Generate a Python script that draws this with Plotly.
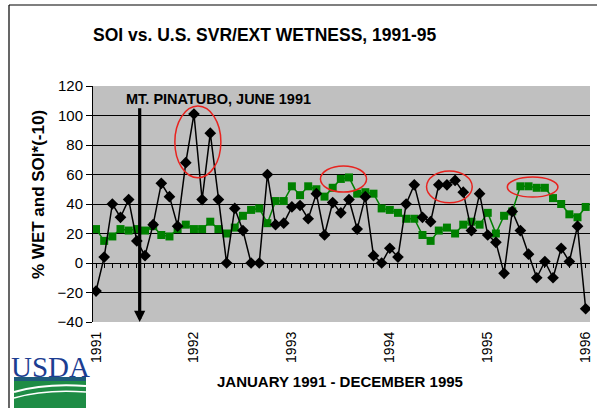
import plotly.graph_objects as go

# ---------------- data ----------------
years = ["1991", "1992", "1993", "1994", "1995", "1996"]
year_positions = [0, 12, 24, 36, 48, 60]

soi_x_minus10 = [-19, 4, 40, 31, 43, 15, 5, 26, 54, 45, 25, 68, 101, 43, 88, 43, 0, 37, 22, 0,
                 0, 60, 26, 27, 38, 39, 30, 47, 19, 41, 34, 43, 23, 45, 5, 0, 10, 4, 40, 53,
                 31, 28, 53, 53, 56, 48, 22, 47, 19, 14, -7, 35, 22, 6, -10, 1, -10, 10, 1, 25, -31]
wetness_pct = [23, 15, 18, 23, 22, 23, 22, 25, 19, 18, 23, 26, 23, 23, 28, 23, 20, 24, 32, 36,
               37, 27, 42, 42, 52, 46, 52, 50, 45, 51, 57, 58, 47, 48, 47, 37, 36, 34, 30, 30,
               19, 15, 22, 24, 20, 26, 28, 26, 34, 20, 32, 35, 52, 52, 51, 51, 44, 40, 33, 31, 38]
months = list(range(len(soi_x_minus10)))

y_ticks = [-40, -20, 0, 20, 40, 60, 80, 100, 120]
pinatubo_month = 5.35
highlight_ellipses = [  # (x0, x1, y0, y1) in data units
    (9.66, 15.3, 57.8, 106.4),
    (27.5, 33.15, 48.1, 65.8),
    (40.5, 46.1, 40.9, 62.4),
    (50.4, 56.6, 44.7, 58.3),
]

# ---------------- layout helpers ----------------
W, H = 597, 408
ML, MR, MT, MB = 93, 7, 86, 86
PW, PH = W - ML - MR, H - MT - MB


def px(x):
    return (x - ML) / PW


def py(y):
    return (H - MB - y) / PH


FONT = "Liberation Sans, Arial, sans-serif"

fig = go.Figure()

fig.add_trace(go.Scatter(
    x=months, y=wetness_pct, mode="lines+markers",
    line=dict(color="#008000", width=1.5),
    marker=dict(symbol="square", size=8, color="#008000"),
    name="% WET", xaxis="x", yaxis="y"))
fig.add_trace(go.Scatter(
    x=months, y=soi_x_minus10, mode="lines+markers",
    line=dict(color="black", width=1.5),
    marker=dict(symbol="diamond", size=9, color="black"),
    name="SOI*(-10)", xaxis="x", yaxis="y"))

# invisible trace to activate the zero-line axis with month ticks
fig.add_trace(go.Scatter(x=months, y=[None] * len(months), xaxis="x2", yaxis="y",
                         showlegend=False, hoverinfo="skip"))

shapes = []
for (x0, x1, y0, y1) in highlight_ellipses:
    shapes.append(dict(type="circle", xref="x", yref="y", x0=x0, x1=x1, y0=y0, y1=y1,
                       line=dict(color="#e8231f", width=1.5)))

# outer frame
shapes.append(dict(type="line", xref="paper", yref="paper", x0=px(9), x1=px(9),
                   y0=py(5), y1=py(410), line=dict(color="black", width=1.2)))
shapes.append(dict(type="line", xref="paper", yref="paper", x0=px(9), x1=px(599),
                   y0=py(5), y1=py(5), line=dict(color="black", width=1.2)))

# USDA logo (drawn)
shapes.append(dict(type="rect", xref="paper", yref="paper", x0=px(14), x1=px(86),
                   y0=py(379), y1=py(408), fillcolor="#1e8c45", line=dict(width=0)))
shapes.append(dict(type="rect", xref="paper", yref="paper", x0=px(14), x1=px(86),
                   y0=py(377), y1=py(381), fillcolor="#1d5a7a", line=dict(width=0)))
for (ya, yb, yc, wdt) in [(392, 383, 386, 2.2), (398, 389, 392, 1.6)]:
    shapes.append(dict(type="path", xref="paper", yref="paper",
                       path=f"M {px(14)},{py(ya)} Q {px(45)},{py(yb)} {px(86)},{py(yc)}",
                       line=dict(color="white", width=wdt)))

annotations = [
    dict(text="<b>SOI vs. U.S. SVR/EXT WETNESS, 1991-95</b>", xref="paper", yref="paper",
         x=px(265), y=py(35), xanchor="center", yanchor="middle", showarrow=False,
         font=dict(size=17.5, color="black", family=FONT)),
    dict(text="<b>% WET and SOI*(-10)</b>", xref="paper", yref="paper", textangle=-90,
         x=px(38), y=py(195), xanchor="center", yanchor="middle", showarrow=False,
         font=dict(size=17, color="black", family=FONT)),
    dict(text="<b>JANUARY 1991 - DECEMBER 1995</b>", xref="paper", yref="paper",
         x=px(340), y=py(381), xanchor="center", yanchor="middle", showarrow=False,
         font=dict(size=15, color="black", family=FONT)),
    dict(text="<b>MT. PINATUBO, JUNE 1991</b>", xref="paper", yref="paper",
         x=px(124), y=py(99), xanchor="left", yanchor="middle", showarrow=False,
         font=dict(size=14.5, color="black", family=FONT)),
    dict(text="", x=pinatubo_month, y=-40, ax=pinatubo_month, ay=106,
         xref="x", yref="y", axref="x", ayref="y", showarrow=True,
         arrowhead=2, arrowsize=0.7, arrowwidth=3.2, arrowcolor="black", standoff=0),
    dict(text="USDA", xref="paper", yref="paper", x=px(50), y=py(367),
         xanchor="center", yanchor="middle", showarrow=False,
         font=dict(size=29, color="#1c3d91", family="Liberation Serif, Times New Roman, serif")),
]

fig.update_layout(
    width=W, height=H,
    margin=dict(l=ML, r=MR, t=MT, b=MB, autoexpand=False),
    paper_bgcolor="white",
    plot_bgcolor="#c0c0c0",
    showlegend=False,
    font=dict(family=FONT, color="black"),
    xaxis=dict(range=[-0.37, 60.53], tickmode="array", tickvals=year_positions,
               ticktext=years, tickangle=-90, showgrid=False, zeroline=False,
               showline=False, ticks="", tickfont=dict(size=14), ticklabelstandoff=6,
               automargin=False),
    xaxis2=dict(overlaying="x", matches="x", anchor="free", position=0.25, side="bottom",
                showline=True, linecolor="black", linewidth=1, ticks="outside",
                tickmode="linear", tick0=0, dtick=1, ticklen=4, tickcolor="black",
                tickwidth=1, showticklabels=False, showgrid=False, zeroline=False,
                automargin=False),
    yaxis=dict(range=[-40, 120], tickvals=y_ticks, showgrid=True, gridcolor="black",
               gridwidth=1, zeroline=False, showline=True, linecolor="black", linewidth=1,
               ticks="outside", ticklen=6, tickcolor="black", tickfont=dict(size=15),
               automargin=False),
    shapes=shapes,
    annotations=annotations,
)

fig.write_html("out.html", config={"displayModeBar": False},
               post_script="document.body.style.margin='0';document.body.style.overflow='hidden';")
